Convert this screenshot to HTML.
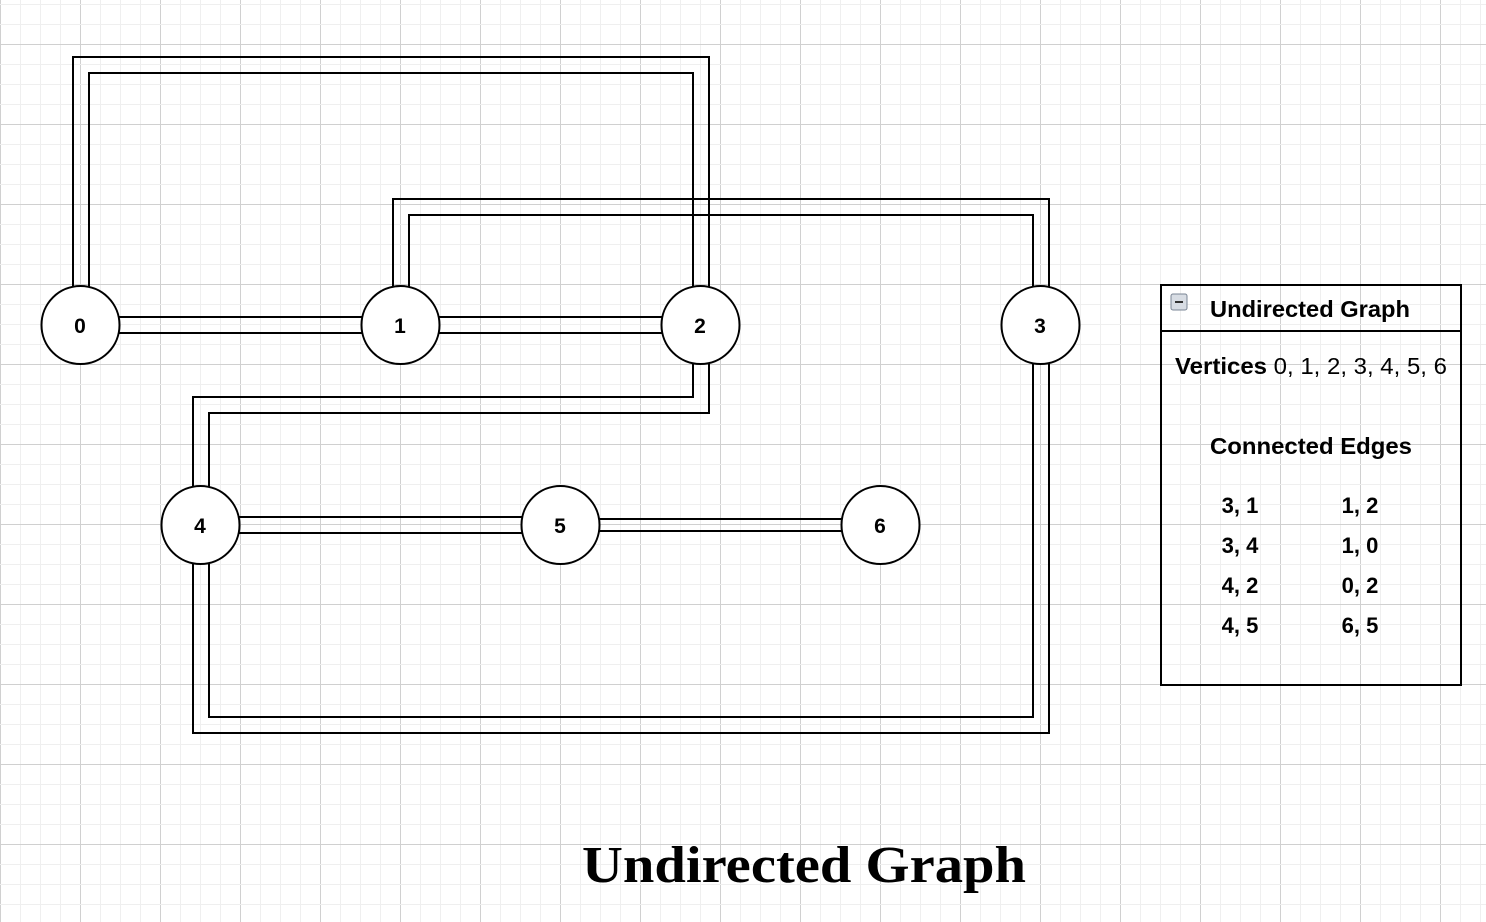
<!DOCTYPE html>
<html><head><meta charset="utf-8"><style>
html,body{margin:0;padding:0;background:#fff;}
svg{display:block;}
text{font-family:"Liberation Sans",Arial,sans-serif;}
</style></head><body>
<svg id="g" width="1486" height="922" viewBox="0 0 1486 922" xmlns="http://www.w3.org/2000/svg">
<defs id="defs"></defs>
<g id="grid"></g>
<g id="edges"></g>
<g id="nodes"></g>
<g>
<rect x="1161" y="285" width="300" height="400" fill="none" stroke="#000" stroke-width="2"/>
<line x1="1161" y1="331" x2="1461" y2="331" stroke="#000" stroke-width="2"/>
<g>
<rect x="1171" y="294" width="16" height="16" rx="2" fill="#d8dde4" stroke="#7a8594" stroke-width="1"/>
<rect x="1175" y="301" width="8" height="2" fill="#333"/>
</g>
<text x="1210" y="317" font-size="23" font-weight="bold" textLength="200" lengthAdjust="spacingAndGlyphs">Undirected Graph</text>
<text x="1175" y="374" font-size="23" textLength="272" lengthAdjust="spacingAndGlyphs"><tspan font-weight="bold">Vertices</tspan> 0, 1, 2, 3, 4, 5, 6</text>
<text x="1210" y="454" font-size="23" font-weight="bold" textLength="202" lengthAdjust="spacingAndGlyphs">Connected Edges</text>
<g id="edgelist" font-size="22" font-weight="bold"></g>
</g>
<text x="582" y="882" font-size="52" font-weight="bold" textLength="444" lengthAdjust="spacingAndGlyphs" style="font-family:'Liberation Serif',Georgia,serif">Undirected Graph</text>
</svg>
<script>
const vertexLabels = ["0","1","2","3","4","5","6"];
const vertexX = [80, 400, 700, 1040, 200, 560, 880];
const vertexY = [325, 325, 325, 325, 525, 525, 525];
const edgeListCol1 = ["3, 1","3, 4","4, 2","4, 5"];
const edgeListCol2 = ["1, 2","1, 0","0, 2","6, 5"];
// routed edges: [from, to, bend-level]
const routedEdges = [[1,3,207],[0,2,65],[2,4,405],[3,4,725]];
const straightEdges = [[0,1,16],[1,2,16],[4,5,16],[5,6,12]];

const NS = "http://www.w3.org/2000/svg";
function mk(tag, attrs, parent){const e=document.createElementNS(NS,tag);for(const k in attrs)e.setAttribute(k,attrs[k]);parent.appendChild(e);return e;}

const grid = document.getElementById('grid');
for(let x=0;x<=1486;x+=20){
  const major = x%80===0;
  const l = mk('line',{x1:x+0.5,y1:0,x2:x+0.5,y2:922,stroke:major?'#d0d0d0':'#efefef','stroke-width':1},grid);
  
  
}
for(let y=4;y<=922;y+=20){
  const major = (y-44)%80===0;
  const l = mk('line',{x1:0,y1:y+0.5,x2:1486,y2:y+0.5,stroke:major?'#d0d0d0':'#efefef','stroke-width':1},grid);
  
  
}

const defs = document.getElementById('defs');
const edges = document.getElementById('edges');
let mid = 0;
function drawDouble(d, gap, name){
  const id = 'm'+(mid++);
  const m = mk('mask',{id:id,maskUnits:'userSpaceOnUse',x:0,y:0,width:1486,height:922},defs);
  mk('path',{d:d,fill:'none',stroke:'#fff','stroke-width':gap+2},m);
  mk('path',{d:d,fill:'none',stroke:'#000','stroke-width':gap-2},m);
  const g = mk('g',{},edges);
  
  
  mk('path',{d:d,fill:'none',stroke:'#000','stroke-width':gap+2,mask:'url(#'+id+')'},g);
}
routedEdges.forEach(([a,b,lvl])=>{
  const d = `M${vertexX[a]+1},${vertexY[a]} L${vertexX[a]+1},${lvl} L${vertexX[b]+1},${lvl} L${vertexX[b]+1},${vertexY[b]}`;
  drawDouble(d,16,'edge-'+a+'-'+b);
});
straightEdges.forEach(([a,b,gap])=>{
  drawDouble(`M${vertexX[a]},${vertexY[a]} L${vertexX[b]},${vertexY[b]}`,gap,'edge-'+a+'-'+b);
});

const nodes = document.getElementById('nodes');
vertexLabels.forEach((lab,i)=>{
  const g = mk('g',{},nodes);
  
  
  mk('circle',{cx:vertexX[i]+0.5,cy:vertexY[i],r:39,fill:'#fff',stroke:'#000','stroke-width':2},g);
  const t = mk('text',{x:vertexX[i],y:vertexY[i]+8,'font-size':21,'font-weight':'bold','text-anchor':'middle'},g);
  t.textContent = lab;
});

const el = document.getElementById('edgelist');
edgeListCol1.forEach((s,i)=>{
  const t = mk('text',{x:1240,y:513+i*40,'text-anchor':'middle'},el);
  
  
  t.textContent = s;
});
edgeListCol2.forEach((s,i)=>{
  const t = mk('text',{x:1360,y:513+i*40,'text-anchor':'middle'},el);
  
  
  t.textContent = s;
});
</script>
</body></html>
